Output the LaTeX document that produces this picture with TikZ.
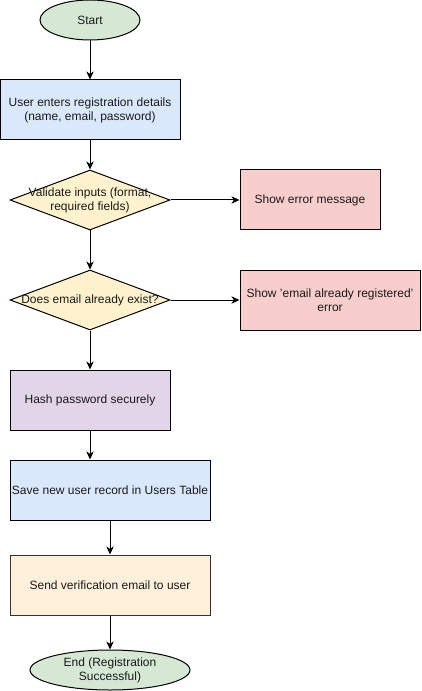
\documentclass[tikz,border=0pt]{standalone}
\usepackage{fontspec}
\setmainfont{Liberation Sans}
\usetikzlibrary{shapes.geometric,arrows.meta}
\definecolor{cgreen}{HTML}{D5E8D4}
\definecolor{cblue}{HTML}{DAE8FC}
\definecolor{cyellow}{HTML}{FFF2CC}
\definecolor{cred}{HTML}{F8CECC}
\definecolor{cpurple}{HTML}{E1D5E7}
\definecolor{corange}{HTML}{FFF0DC}
\definecolor{txt}{HTML}{1A1A1A}
\tikzset{
  base/.style={draw=black, line width=0.75pt, font=\fontsize{9pt}{10.5pt}\selectfont, text=txt, align=center, inner sep=1pt},
  term/.style={base, ellipse, minimum width=75pt, minimum height=30pt, fill=cgreen},
  proc/.style={base, rectangle, minimum height=45pt},
  dec/.style={base, diamond, fill=cyellow, minimum width=120pt, minimum height=45pt, inner sep=0pt},
  dectext/.style={font=\fontsize{9pt}{10.5pt}\selectfont, text=txt, align=center, inner sep=0pt},
  conn/.style={draw=black, line width=0.75pt, -{Stealth[length=6pt,width=5.5pt,inset=1.8pt]}},
}
\begin{document}
\begin{tikzpicture}[x=0.75pt,y=-0.75pt]
\useasboundingbox (0,0) rectangle (421,691);
\node[term] (start) at (90,20) {Start};
\node[proc, fill=cblue, minimum width=135pt] (enter) at (90,110) {User enters registration details\\(name, email, password)};
\node[dec] (val) at (90,200) {};
\node[dectext] (valt) at (90,200) {Validate inputs (format,\\required fields)};
\node[proc, fill=cred, minimum width=105pt] (err1) at (310,200) {Show error message};
\node[dec] (exist) at (90,300) {};
\node[dectext] (existt) at (90,300) {Does email already exist?};
\node[proc, fill=cred, minimum width=135pt] (err2) at (330,300) {Show 'email already registered'\\error};
\node[proc, fill=cpurple, minimum width=120pt] (hash) at (90,400) {Hash password securely};
\node[proc, fill=cblue, minimum width=150pt] (save) at (110,490) {Save new user record in Users Table};
\node[proc, fill=corange, draw=black!80, minimum width=150pt] (send) at (110,585) {Send verification email to user};
\node[term, minimum width=120pt] (end) at (110,670) {End (Registration\\Successful)};
\draw[conn] (start) -- (enter);
\draw[conn] (enter) -- (val);
\draw[conn] (val.east) -- (err1.west);
\draw[conn] (val) -- (exist);
\draw[conn] (exist.east) -- (err2.west);
\draw[conn] (exist) -- (hash);
\draw[conn] (hash) -- (hash.south |- save.north);
\draw[conn] (save) -- (send);
\draw[conn] (send) -- (end);
\end{tikzpicture}
\end{document}
